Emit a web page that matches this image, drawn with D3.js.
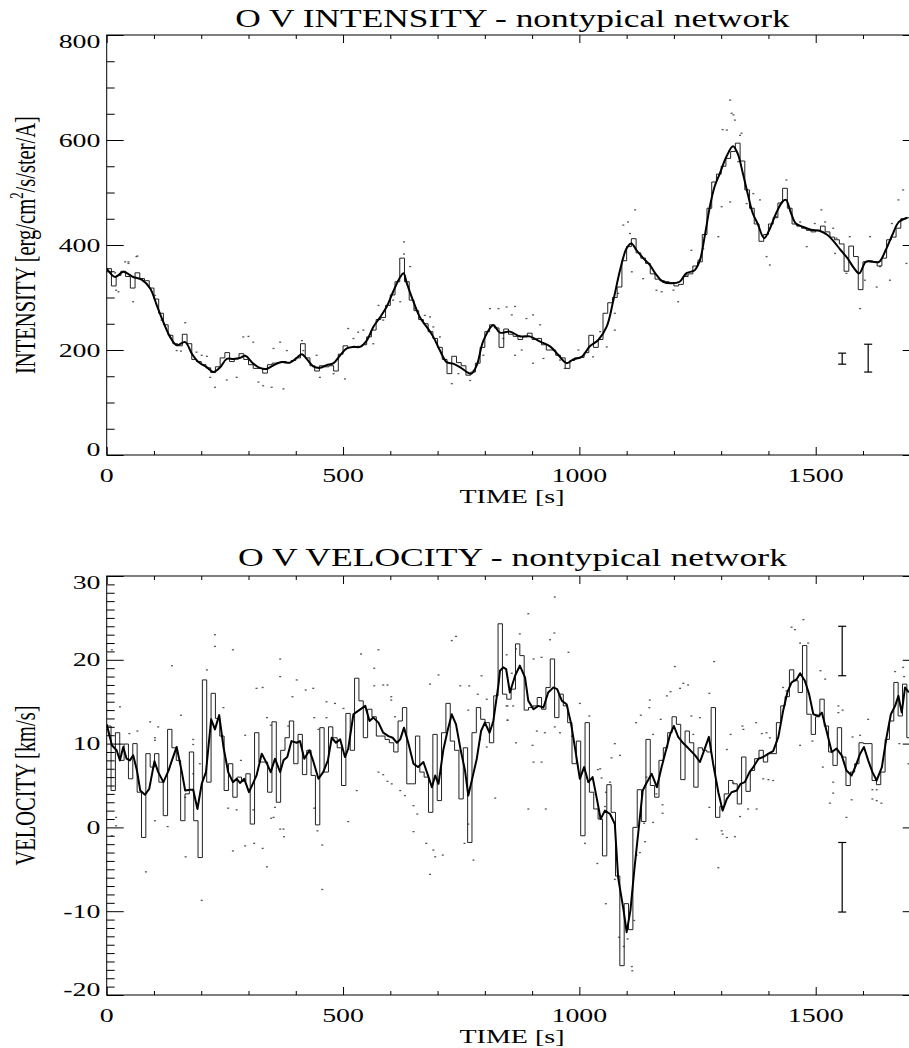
<!DOCTYPE html>
<html><head><meta charset="utf-8">
<script src="https://cdn.jsdelivr.net/npm/d3@7"></script>
<style>
body{margin:0;background:#fff}
svg{display:block}
text{font-family:"Liberation Serif","Times New Roman",serif;fill:#000}
</style>
</head><body>
<svg id="c" width="909" height="1048"></svg>
<script>
// ---------------- DATA ----------------
const xTicksMajor = [0, 500, 1000, 1500];
const intensityTicks = [0, 200, 400, 600, 800];
const velocityTicks = [-20, -10, 0, 10, 20, 30];

// Intensity: 10 s bins, step (binned) values
const intensityBinStart = 0, intensityBinWidth = 10;
const intensityStep = [355,322,342,350,340,318,347,336,332,318, 297,270,248,228,212,208,230,212,182,178,
 172,166,157,168,185,195,178,183,193,182, 172,165,165,156,172,175,176,178,176,180,
 185,212,185,170,160,170,168,170,160,192, 208,205,205,207,210,225,238,258,262,285,
 305,330,375,330,295,275,258,250,235,222, 205,182,155,188,176,170,152,158,175,205,
 235,248,242,205,240,230,226,220,225,232, 220,222,210,200,200,190,185,165,180,185,
 186,195,228,205,220,270,290,300,320,370, 397,412,385,375,365,345,335,332,330,328,
 322,325,340,345,360,368,420,470,520,535, 550,565,578,594,560,505,470,440,407,420,
 440,452,480,508,470,440,436,432,428,425, 428,436,425,415,410,402,350,398,378,315,
 368,370,368,360,375,410,415,432,450,452];

// Intensity smoothed curve
const intensitySmoothT = [0,18,35,56,74,92,106,120,134,148,166,180,194,212,226,240,254,268,282,293,310,324,338,353,370,388,402,413,423,437,451,465,480,494,508,522,536,550,564,578,592,606,621,628,635,649,663,677,691,705,719,733,748,762,772,783,797,818,832,853,874,895,917,938,955,973,987,1005,1022,1040,1058,1072,1086,1100,1110,1121,1135,1149,1163,1177,1195,1212,1226,1244,1255,1265,1276,1286,1297,1311,1325,1335,1346,1356,1367,1377,1391,1402,1416,1430,1437,1448,1458,1472,1490,1508,1525,1539,1553,1567,1581,1592,1606,1620,1634,1648,1662,1676,1694];
const intensitySmoothV = [355,339,349,339,334,317,285,253,225,209,215,193,177,167,158,167,183,183,185,189,174,166,164,171,177,176,185,192,183,169,166,171,175,190,203,206,206,218,244,262,282,311,339,346,327,292,262,244,225,199,177,174,167,158,155,171,218,247,233,235,226,226,216,207,191,175,182,187,207,219,245,295,352,394,403,390,375,362,343,330,327,330,346,352,371,416,473,511,536,568,588,574,536,498,460,441,413,429,460,483,486,460,441,435,429,427,419,406,390,375,356,346,368,368,368,390,419,444,452];

// Intensity raw pixel samples (dots)
const intensityDotT = [39,46,65,56,25,20,102,116,134,166,148,157,190,201,212,229,219,254,275,289,300,310,321,331,349,374,353,367,381,413,416,444,451,480,504,511,522,532,543,564,575,585,606,621,629,629,642,652,673,684,691,705,730,744,769,776,811,829,846,839,797,
 864,857,902,888,917,864,878,902,924,959,969,998,1029,1044,1058,1075,1075,1082,1093,1103,1118,1107,1111,1135,1163,1174,1199,1209,1227,1252,1237,1262,1294,1301,1319,1312,1326,1329,1340,1336,1354,1368,1382,1396,1403,1417,1438,1467,1481,1498,1512,1520,1537,1544,1541,1565,1572,1594,1604,1615,1629,1636,1657,1661,1675,1685,1692,1319,1322,1303,1343,18,46,63];
const intensityDotV = [368,365,379,292,311,314,304,257,228,252,199,198,196,190,188,129,148,143,148,225,226,215,139,132,129,126,203,215,199,218,199,190,148,155,145,241,222,234,238,212,285,257,295,292,406,383,359,279,266,263,244,225,136,155,142,161,279,279,282,222,190,
 283,267,267,260,248,190,200,175,184,181,165,200,187,235,206,238,270,308,438,444,467,422,349,336,314,311,314,292,343,371,390,393,416,473,482,619,648,638,609,559,479,498,486,378,362,454,524,444,397,441,467,444,432,413,384,346,416,279,333,416,320,359,333,441,486,505,365,676,651,620,613,347,368,378];

// Velocity: step (binned) values, uniform cadence
const velocityBinStart = 0, velocityBinWidth = 9.2;
const velocityStep = [12.1,4.4,11.3,8.0,9.95,5.8,10.0,4.2,-1.2,8.8, 7.2,8.8,5.4,1.4,11.7,9.5,8.0,0.8,4.0,9.0,
 0.8,-3.6,17.6,5.4,16.0,13.0,10.9,4.4,7.6,3.6, 6.0,5.5,6.4,0.4,11.3,7.8,7.8,4.2,12.6,3.0,
 9.2,10.7,12.7,7.6,11.1,6.3,9.2,6.2,0.3,11.9, 6.6,12.0,10.7,9.5,5.0,13.6,9.2,17.8,15.1,10.7,
 14.1,13.2,10.9,10.9,10.5,10.1,9.0,12.7,14.3,5.2, 5.2,10.9,6.6,6.0,1.8,11.1,3.2,11.3,14.8,10.3,
 9.2,3.4,9.5,-1.8,11.3,14.3,12.9,12.5,10.1,15.7, 24.3,15.9,15.3,16.5,21.9,20.5,14.0,14.3,14.5,15.5,
 14.1,16.7,20.1,13.1,15.9,14.5,12.5,7.6,10.3,-1.0, 12.5,4.2,2.2,1.0,-3.4,5.1,1.8,-5.8,-16.5,-9.1,
 -12.2,0.0,4.5,0.7,10.5,5.0,3.6,8.0,9.5,11.3, 13.2,12.3,5.7,11.5,10.1,4.8,9.5,9.2,9.0,14.3,
 1.2,2.5,4.0,5.6,5.2,2.8,8.4,4.3,6.8,8.2, 9.2,7.8,8.8,8.8,12.5,14.5,15.6,18.8,17.5,16.1,
 21.7,13.5,11.1,13.2,15.3,12.1,9.0,7.4,11.9,8.4, 5.0,6.6,7.6,10.1,10.0,10.0,5.6,5.1,6.6,10.5,
 12.7,17.3,13.3,17.1,10.7,20.1];

// Velocity smoothed curve
const velocitySmoothT = [0,11,21,28,35,42,49,56,64,71,81,90,101,109,120,131,138,148,159,166,176,183,192,201,210,221,229,238,247,257,267,275,282,291,301,309,317,328,339,347,356,367,374,382,391,402,409,418,429,437,448,458,468,476,485,494,504,511,522,532,547,556,564,575,585,596,605,614,621,629,638,649,659,670,681,688,695,702,712,721,730,739,749,758,765,774,783,792,800,810,818,829,
 832,839,845,853,864,874,885,892,903,913,924,934,945,953,963,973,982,991,1001,1010,1019,1028,1037,1045,1054,1065,1075,1082,1093,1100,1108,1116,1125,1134,1142,1153,1164,1174,1185,1192,1200,1209,1219,1228,1245,1255,1264,1274,1283,1294,1303,1312,1322,1333,1341,1350,1360,1368,1379,1389,1400,1410,1421,1431,1440,1449,1460,1467,1477,1486,1495,1506,1513,1523,1534,1544,1555,1565,1576,1585,1594,1602,1611,1620,1629,1640,1650,1659,1668,1675,1682,1689,1697];
const velocitySmoothV = [12.3,9.8,9.2,8.0,9.6,8.2,8.0,8.6,6.8,4.4,3.9,4.6,7.9,6.6,5.4,6.8,8.0,9.6,6.6,4.4,4.5,4.5,2.2,5.2,6.6,12.9,11.7,13.4,9.6,6.6,5.4,5.8,5.3,5.8,4.2,5.2,6.2,8.8,7.6,6.6,8.2,6.6,8.0,8.4,10.3,10.1,10.3,8.2,9.2,7.9,5.8,6.6,8.0,10.7,10.1,10.5,8.4,9.4,13.5,13.9,14.5,12.7,13.1,12.5,11.3,10.9,10.7,10.1,10.5,11.9,10.1,7.6,7.2,7.8,6.0,4.8,6.2,5.2,9.2,11.5,13.5,12.3,9.2,6.8,3.8,6.0,8.2,11.5,12.5,11.3,12.7,17.1,
 18.7,19.1,18.9,16.1,18.1,19.3,17.9,15.1,14.1,14.5,14.3,16.1,16.7,16.5,15.1,14.7,12.5,9.4,5.8,7.2,5.4,6.0,3.4,1.0,2.0,1.6,0.4,-6.0,-9.7,-12.5,-9.9,-5.2,-0.4,4.4,5.3,6.4,4.8,7.2,9.6,11.1,12.1,10.8,10.1,9.6,8.6,7.8,9.2,10.8,7.6,4.2,2.0,3.4,4.2,4.4,5.2,5.4,6.6,7.2,8.2,8.4,8.8,9.1,10.8,13.9,16.1,17.3,17.7,18.4,17.5,15.9,13.5,13.3,13.7,11.5,9.0,9.4,8.6,6.8,6.2,7.4,8.8,9.6,8.0,6.6,5.6,7.2,10.8,13.5,14.5,15.7,13.7,16.7,16.1];

// Velocity raw pixel samples (dots)
const velocityDotT = [229,229,267,138,212,11,28,92,109,102,102,65,48,157,183,183,247,293,284,317,330,339,347,367,367,402,421,437,393,384,465,483,501,465,448,439,538,575,566,585,594,566,602,602,610,684,702,730,739,748,767,793,785,804,765,846,848,848,822,790,804,765,776,757,691,695,711,684,676,649,657,649,575,585,594,603,621,631,511,529,456,456,446,439,375,367,374,356,353,348,339,330,312,293,267,257,275,310,201,167,129,83,102,20,20,11,166,183,197,
 948,892,874,947,938,977,903,920,866,845,857,846,860,848,866,903,920,901,910,927,948,959,984,1001,1021,1075,1086,1068,1044,1039,1065,1047,1056,1054,892,929,1012,1038,1056,1075,1084,1094,1111,1112,1102,1116,1121,1128,1139,1137,1156,1176,1176,1163,1142,1149,1148,1130,1120,1156,1172,1185,1193,1202,1213,1220,1230,1237,1241,1255,1275,1285,1248,1294,1301,1303,1312,1329,1340,1357,1375,1275,1312,1320,1326,1345,1347,1374,1386,1396,1403,1389,1400,1410,1431,1438,1449,1456,1474,1467,1484,1467,1493,1510,1520,1548,1557,1548,1515,1537,1537,1530,1565,1576,1594,1578,1611,1620,1629,1620,1629,1639,1668,1677,1685,1687,1696];
const velocityDotV = [23.0,21.6,21.2,19.3,18.8,21.2,14.4,12.6,12.0,10.7,10.4,11.5,11.2,13.4,10.5,9.9,14.3,11.0,8.0,16.6,16.7,13.1,12.2,20.1,18.0,17.6,16.4,16.6,15.6,12.1,15.0,14.8,14.2,13.1,11.7,13.1,20.7,21.2,19.0,17.0,17.0,16.9,15.6,15.2,13.2,17.1,18.2,22.3,22.8,16.9,16.9,18.1,15.9,15.3,14.0,20.6,14.5,12.8,3.5,10.5,9.6,0.4,-3.9,-1.9,-2.7,-3.5,-3.3,-5.6,-1.9,-0.5,1.6,2.6,6.6,6.3,5.5,5.2,4.4,3.8,0.7,4.4,-2.1,-7.4,-0.4,2.3,-1.1,-0.2,-0.2,2.4,1.2,1.1,-4.7,-2.5,-1.9,-2.2,-2.8,2.3,2.1,2.1,-8.7,-3.5,0.1,-5.3,0.8,1.2,0.2,-1.0,3.6,6.4,7.6,
 27.5,25.5,23.1,23.2,22.4,20.9,20.1,20.3,21.3,18.9,18.4,14.5,14.5,12.8,10.1,7.8,7.8,9.8,11.5,11.3,12.0,11.3,10.9,14.8,13.3,10.0,8.6,8.3,7.0,6.9,5.4,5.9,4.2,2.5,2.2,2.2,-1.9,-4.3,-9.1,-6.2,-13.1,-14.2,-16.6,-17.1,-13.3,-11.1,-3.3,-3.0,-1.7,0.5,0.6,1.7,2.7,4.0,6.0,15.2,14.3,13.4,12.5,11.1,12.9,15.7,16.2,19.2,16.6,17.2,17.0,13.3,11.1,13.1,16.0,19.8,-1.4,-4.8,-0.4,-0.8,-1.2,-1.1,1.3,2.2,2.2,2.4,9.3,11.1,5.3,12.1,11.7,12.5,11.2,11.3,10.7,5.8,5.7,5.6,16.7,16.3,23.9,23.6,24.8,22.0,22.0,9.8,10.3,18.7,17.7,14.5,14.0,13.7,7.2,5.4,4.1,2.9,1.2,3.3,11.0,10.8,12.9,4.5,4.5,3.4,3.2,2.9,18.6,10.0,19.1,18.0,7.6];

// Representative error bars
const intensityErrT = [1556, 1611];
const intensityErrLo = [173, 158];
const intensityErrHi = [194, 211];
const velocityErrT = [1556, 1556];
const velocityErrLo = [18.1, -10.1];
const velocityErrHi = [24.0, -1.8];

// ---------------- DRAW ----------------
const svg = d3.select('#c');
const STRETCH = 1.43;
const x = d3.scaleLinear().domain([0, 1720]).range([106.7, 919.7]);
const xMinor = d3.range(0, 1721, 100).filter(v => v % 500 !== 0);

function hText(g, str, cx, base, size, anchor, targetW) {
  const t = g.append('text').attr('font-size', size).attr('text-anchor', anchor).text(str);
  let s = STRETCH;
  if (targetW) { s = targetW / t.node().getComputedTextLength(); }
  t.attr('transform', `translate(${cx},${base}) scale(${s},1)`);
  return t;
}

function panel(o) {
  const g = svg.append('g');
  const y = d3.scaleLinear().domain(o.yDomain).range(o.yRange);
  const x0 = x.range()[0], x1 = x.range()[1];
  const yT = o.yRange[1], yB = o.yRange[0];
  const id = 'clip' + o.id;
  svg.append('clipPath').attr('id', id).append('rect')
    .attr('x', x0).attr('y', yT).attr('width', x1 - x0).attr('height', yB - yT);
  const d = g.append('g').attr('clip-path', `url(#${id})`);

  // dots
  d.append('g').selectAll('rect').data(o.dotT.map((t, i) => [t, o.dotV[i]])).join('rect')
    .attr('x', p => x(p[0]) - 1).attr('y', p => y(p[1]) - 0.6)
    .attr('width', 2).attr('height', 1.3).attr('fill', '#555');

  // step (histogram) line
  const stepPts = o.step.map((v, i) => [o.binStart + i * o.binWidth, v]);
  stepPts.push([o.binStart + o.step.length * o.binWidth, o.step[o.step.length - 1]]);
  d.append('path').attr('d', d3.line().x(p => x(p[0])).y(p => y(p[1])).curve(d3.curveStepAfter)(stepPts))
    .attr('fill', 'none').attr('stroke', '#222').attr('stroke-width', 1);

  // smooth line
  const sm = o.smT.map((t, i) => [t, o.smV[i]]);
  d.append('path').attr('d', d3.line().x(p => x(p[0])).y(p => y(p[1])).curve(o.curve)(sm))
    .attr('fill', 'none').attr('stroke', '#000').attr('stroke-width', 2).attr('stroke-linejoin', 'round');

  // error bars
  o.errT.forEach((t, i) => {
    const xx = x(t), ylo = y(o.errLo[i]), yhi = y(o.errHi[i]);
    g.append('line').attr('x1', xx).attr('x2', xx).attr('y1', ylo).attr('y2', yhi).attr('stroke', '#000').attr('stroke-width', 1.2);
    [ylo, yhi].forEach(yy => g.append('line').attr('x1', xx - 4).attr('x2', xx + 4).attr('y1', yy).attr('y2', yy).attr('stroke', '#000').attr('stroke-width', 1.2));
  });

  // axes (ticks inward)
  const ax = (fn, sc, vals, size, tr) => {
    const a = g.append('g').attr('transform', tr)
      .call(fn(sc).tickValues(vals).tickSize(size).tickSizeOuter(0).tickFormat(''));
    a.select('.domain').remove();
    a.selectAll('line').attr('stroke', '#000').attr('stroke-width', 1);
  };
  const yMinor = d3.range(o.yDomain[0], o.yDomain[1] + 1e-9, o.yMinorStep).filter(v => !o.yTicks.includes(+v.toFixed(6)));
  ax(d3.axisRight, y, o.yTicks, 17, `translate(${x0},0)`);
  ax(d3.axisRight, y, yMinor, 8, `translate(${x0},0)`);
  ax(d3.axisLeft, y, o.yTicks, 17, `translate(${x1},0)`);
  ax(d3.axisLeft, y, yMinor, 8, `translate(${x1},0)`);
  ax(d3.axisTop, x, xTicksMajor, 8, `translate(0,${yB})`);
  ax(d3.axisTop, x, xMinor, 4, `translate(0,${yB})`);
  ax(d3.axisBottom, x, xTicksMajor, 8, `translate(0,${yT})`);
  ax(d3.axisBottom, x, xMinor, 4, `translate(0,${yT})`);
  g.append('rect').attr('x', x0).attr('y', yT).attr('width', x1 - x0).attr('height', yB - yT)
    .attr('fill', 'none').attr('stroke', '#000').attr('stroke-width', 1);

  // tick labels
  o.yTicks.forEach((v, i) => {
    let cy = y(v);
    if (i === 0) cy -= 5.5;
    if (i === o.yTicks.length - 1) cy += 6.5;
    hText(g, String(v), 100.5, cy + 6.6, 19.5, 'end');
  });
  xTicksMajor.forEach(v => hText(g, String(v), x(v), yB + 26.7, 19.5, 'middle'));

  // axis titles
  hText(g, 'TIME [s]', 512, yB + 48.3, 19, 'middle', 105);
  hText(g, o.title, 512.5, o.titleBase, 25, 'middle', o.titleW);

  // y label (rotated)
  const yl = g.append('text').attr('font-size', 21).attr('text-anchor', 'middle');
  o.ylabel(yl);
  const nat = yl.node().getComputedTextLength();
  yl.attr('transform', `translate(35,${(yT + yB) / 2}) rotate(-90) scale(${o.ylabelLen / nat},1.45)`);
}

panel({
  id: 'I', yDomain: [0, 800], yRange: [455, 35], yTicks: intensityTicks, yMinorStep: 50,
  step: intensityStep, binStart: intensityBinStart, binWidth: intensityBinWidth,
  smT: intensitySmoothT, smV: intensitySmoothV, curve: d3.curveCatmullRom.alpha(0.5),
  dotT: intensityDotT, dotV: intensityDotV,
  errT: intensityErrT, errLo: intensityErrLo, errHi: intensityErrHi,
  title: 'O V INTENSITY - nontypical network', titleBase: 26.7, titleW: 555,
  ylabel: t => {
    t.append('tspan').text('INTENSITY [erg/cm');
    t.append('tspan').attr('font-size', 13).attr('dy', -8).text('2');
    t.append('tspan').attr('dy', 8).text('/s/ster/A]');
  },
  ylabelLen: 258
});

panel({
  id: 'V', yDomain: [-20, 30], yRange: [995, 576], yTicks: velocityTicks, yMinorStep: 1,
  step: velocityStep, binStart: velocityBinStart, binWidth: velocityBinWidth,
  smT: velocitySmoothT, smV: velocitySmoothV, curve: d3.curveLinear,
  dotT: velocityDotT, dotV: velocityDotV,
  errT: velocityErrT, errLo: velocityErrLo, errHi: velocityErrHi,
  title: 'O V VELOCITY - nontypical network', titleBase: 566, titleW: 549,
  ylabel: t => t.text('VELOCITY [km/s]'),
  ylabelLen: 160
});
</script>
</body></html>
